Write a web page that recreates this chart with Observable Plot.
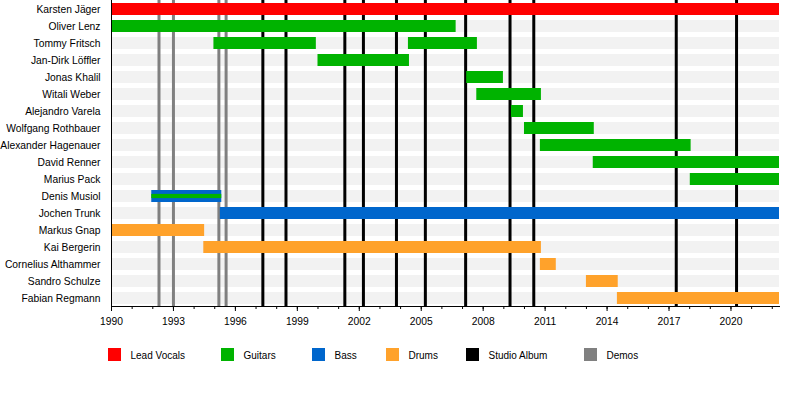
<!DOCTYPE html>
<html>
<head>
<meta charset="utf-8">
<script src="https://cdn.jsdelivr.net/npm/d3@7"></script>
<script src="https://cdn.jsdelivr.net/npm/@observablehq/plot@0.6"></script>
<style>
  body { margin: 0; background: #fff; font-family: "Liberation Sans", Arial, sans-serif; }
  #wrap { position: relative; width: 800px; height: 396px; }
  .lg-sw { position: absolute; width: 12.5px; height: 12.5px; top: 348px; }
  .lg-tx { position: absolute; top: 349px; font-size: 10px; line-height: 13px; color: #000; }
</style>
</head>
<body>
<div id="wrap"><div id="chart"></div><div id="legend"></div></div>
<script>
const START = 1990;
const END = 2022.35;

const members = [
  "Karsten Jäger", "Oliver Lenz", "Tommy Fritsch", "Jan-Dirk Löffler", "Jonas Khalil",
  "Witali Weber", "Alejandro Varela", "Wolfgang Rothbauer", "Alexander Hagenauer",
  "David Renner", "Marius Pack", "Denis Musiol", "Jochen Trunk", "Markus Gnap",
  "Kai Bergerin", "Cornelius Althammer", "Sandro Schulze", "Fabian Regmann"
];

const roles = ["Lead Vocals", "Guitars", "Bass", "Drums"];
const roleColors = ["#ff0000", "#00b300", "#0066cc", "#ffa22b"];

// [member, role, start, end]
const stints = [
  ["Karsten Jäger", "Lead Vocals", 1990, END],
  ["Oliver Lenz", "Guitars", 1990, 2006.69],
  ["Tommy Fritsch", "Guitars", 1994.96, 1999.92],
  ["Tommy Fritsch", "Guitars", 2004.38, 2007.72],
  ["Jan-Dirk Löffler", "Guitars", 2000.0, 2004.43],
  ["Jonas Khalil", "Guitars", 2007.2, 2008.98],
  ["Witali Weber", "Guitars", 2007.69, 2010.82],
  ["Alejandro Varela", "Guitars", 2009.37, 2009.95],
  ["Wolfgang Rothbauer", "Guitars", 2010.0, 2013.38],
  ["Alexander Hagenauer", "Guitars", 2010.77, 2018.07],
  ["David Renner", "Guitars", 2013.33, END],
  ["Marius Pack", "Guitars", 2018.03, END],
  ["Denis Musiol", "Bass", 1991.95, 1995.34],
  ["Jochen Trunk", "Bass", 1995.27, END],
  ["Markus Gnap", "Drums", 1990, 1994.51],
  ["Kai Bergerin", "Drums", 1994.47, 2010.82],
  ["Cornelius Althammer", "Drums", 2010.77, 2011.54],
  ["Sandro Schulze", "Drums", 2013.0, 2014.54],
  ["Fabian Regmann", "Drums", 2014.5, END]
];

// secondary role shown as a thin stripe inside the main bar
const secondaryStints = [
  ["Denis Musiol", "Guitars", 1991.95, 1995.34]
];

const studioAlbums = [1997.33, 1998.45, 2001.3, 2002.2, 2003.8, 2005.2, 2007.15, 2009.3, 2010.45, 2017.35, 2020.27];
const demos = [1992.3, 1993.0, 1995.2, 1995.55];

const majorTicks = d3.range(1990, 2021, 3);
const minorTicks = d3.range(1990, 2023, 1);

const legendItems = ["Lead Vocals", "Guitars", "Bass", "Drums", "Studio Album", "Demos"];
const legendColors = ["#ff0000", "#00b300", "#0066cc", "#ffa22b", "#000000", "#808080"];
const legendX = [108, 221, 312, 386, 466, 584];

const chart = Plot.plot({
  width: 800,
  height: 335,
  marginLeft: 111,
  marginRight: 21,
  marginTop: 0,
  marginBottom: 29,
  style: { fontFamily: "'Liberation Sans', Arial, sans-serif", fontSize: "10px", color: "#000", background: "#fff" },
  x: { domain: [START, END], label: null },
  y: { domain: members, paddingInner: 0.32, paddingOuter: 0.015, label: null },
  color: { domain: roles, range: roleColors },
  marks: [
    Plot.barX(members, { y: d => d, x1: START, x2: END, fill: "#f2f2f2" }),
    Plot.ruleX(demos, { x: d => d, stroke: "#808080", strokeWidth: 3 }),
    Plot.ruleX(studioAlbums, { x: d => d, stroke: "#000", strokeWidth: 3 }),
    Plot.barX(stints, { y: d => d[0], x1: d => d[2], x2: d => d[3], fill: d => d[1] }),
    Plot.barX(secondaryStints, { y: d => d[0], x1: d => d[2], x2: d => d[3], fill: d => d[1], insetTop: 3.9, insetBottom: 3.9 }),
    Plot.frame({ anchor: "left", stroke: "#000" }),
    Plot.frame({ anchor: "bottom", stroke: "#000" }),
    Plot.axisX({ ticks: minorTicks, tickSize: 3, tickFormat: () => "", label: null }),
    Plot.axisX({ ticks: majorTicks, tickSize: 5, tickPadding: 6, tickFormat: "d", label: null, fontSize: 10.3 }),
    Plot.axisY({ tickSize: 0, tickPadding: 11, label: null, fontSize: 10.3 })
  ]
});
document.getElementById("chart").appendChild(chart);

const legend = document.getElementById("legend");
legendItems.forEach((name, i) => {
  const sw = document.createElement("div");
  sw.className = "lg-sw";
  sw.style.left = legendX[i] + "px";
  sw.style.background = legendColors[i];
  legend.appendChild(sw);
  const tx = document.createElement("div");
  tx.className = "lg-tx";
  tx.style.left = (legendX[i] + 22.5) + "px";
  tx.textContent = name;
  legend.appendChild(tx);
});
</script>
</body>
</html>
